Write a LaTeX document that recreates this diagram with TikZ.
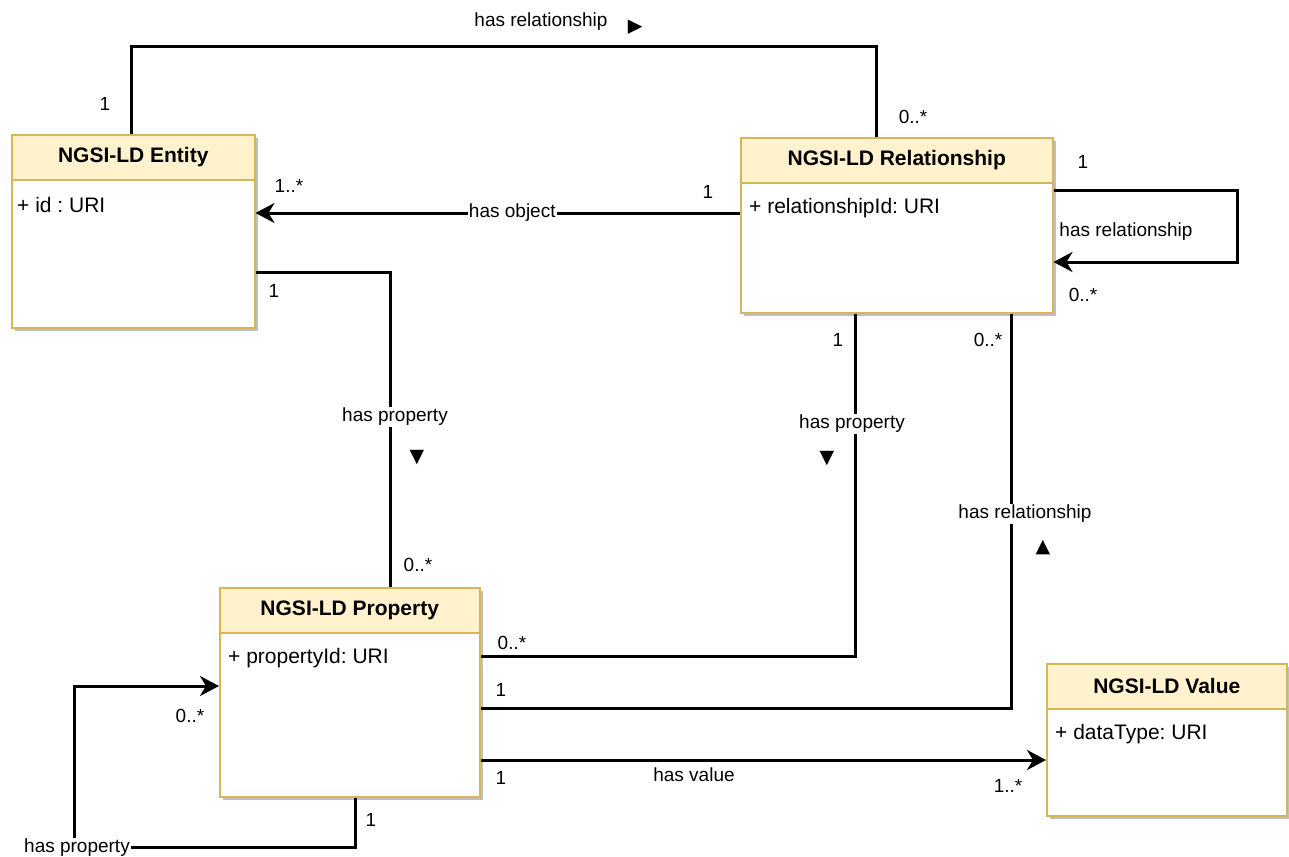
\documentclass[tikz,border=0pt]{standalone}
\usepackage{fontspec}
\setmainfont{Liberation Sans}
\newfontfamily\symfont{DejaVu Sans}
\usetikzlibrary{arrows.meta,shadows}
\definecolor{hdrfill}{HTML}{FFF2CC}
\definecolor{hdrline}{HTML}{D6B656}
\frenchspacing
\tikzset{
 conn/.style={line width=3pt},
 arr/.style={conn,-{Stealth[length=19pt,width=20pt,inset=6pt]}},
 lbl/.style={font=\fontsize{19}{22}\selectfont, inner sep=1pt},
 wlbl/.style={lbl, fill=white},
 tri/.style={font=\symfont\fontsize{19}{21}\selectfont, inner sep=0pt},
 classbox/.style={draw=hdrline, fill=white, line width=1.5pt, anchor=north west, inner sep=0pt,
   drop shadow={shadow xshift=3pt, shadow yshift=-3pt, fill=black, opacity=0.25}},
 hdr/.style={draw=hdrline, fill=hdrfill, line width=1.5pt, anchor=north west, inner sep=0pt,
   minimum height=45pt, font=\bfseries\fontsize{21}{24}\selectfont},
 attr/.style={anchor=west, font=\fontsize{21}{24}\selectfont, inner sep=0pt},
}
\begin{document}
\begin{tikzpicture}[x=1pt,y=-1pt]
\useasboundingbox[fill=white] (0,0) rectangle (1289,856);

% classes
\node[classbox, minimum width=243pt, minimum height=193pt] (ent) at (11,134) {};
\node[hdr, minimum width=243pt] (enth) at (ent.north west) {NGSI-LD Entity};
\node[attr] (enta) at ([xshift=6pt,yshift=-24pt]enth.south west) {+ id : URI};

\node[classbox, minimum width=312pt, minimum height=175pt] (rel) at (740,137) {};
\node[hdr, minimum width=312pt] (relh) at (rel.north west) {NGSI-LD Relationship};
\node[attr] (rela) at ([xshift=9pt,yshift=-25pt]relh.south west) {+ relationshipId: URI};

\node[classbox, minimum width=260pt, minimum height=209pt] (prop) at (219,587) {};
\node[hdr, minimum width=260pt] (proph) at (prop.north west) {NGSI-LD Property};
\node[attr] (propa) at ([xshift=9pt,yshift=-25pt]proph.south west) {+ propertyId: URI};

\node[classbox, minimum width=240pt, minimum height=152pt] (val) at (1046,663) {};
\node[hdr, minimum width=240pt] (valh) at (val.north west) {NGSI-LD Value};
\node[attr] (vala) at ([xshift=9pt,yshift=-25pt]valh.south west) {+ dataType: URI};

% connectors
\coordinate (topbar) at (500,47);
\draw[conn] ([xshift=120pt]ent.north west) |- (topbar) -| ([xshift=136pt]rel.north west);

\draw[arr] ([yshift=-76pt]rel.north west) -- ([yshift=-79pt]ent.north east)
  node[wlbl, pos=0.47] (hasobj) {has object};

\draw[conn] ([yshift=-138pt]ent.north east) -| ([xshift=171pt]prop.north west);

\coordinate (loopc) at (1237,226);
\draw[arr] ([yshift=-53pt]rel.north east) -| (loopc) |- ([yshift=-125pt]rel.north east);

\draw[conn] ([xshift=115pt]rel.south west) |- ([yshift=-69pt]prop.north east);
\draw[conn] ([xshift=271pt]rel.south west) |- ([yshift=-121pt]prop.north east);

\draw[arr] ([yshift=-173pt]prop.north east) -- ([yshift=-97pt]val.north west);

\coordinate (lp) at (74,847);
\draw[arr] ([xshift=136pt]prop.south west) |- (lp) |- ([yshift=-99pt]prop.north west);

% labels
\node[lbl] (l1) at (541,22) {has relationship};
\node[tri, rotate=90] (t1) at (636,27) {▼};
\node[lbl] (m1) at (105,104) {1};
\node[lbl] (m2) at (913,117) {0..*};

\node[lbl] (m3) at (289,186) {1..*};
\node[lbl] (m4) at (708,192) {1};

\node[lbl] (m5) at (274,291) {1};
\node[wlbl] (l2) at (395,417) {has property};
\node[tri] (t2) at (417,458) {▼};
\node[lbl] (m6) at (418,565) {0..*};

\node[lbl] (m7) at (1083,162) {1};
\node[lbl] (l3) at (1126,232) {has relationship};
\node[lbl] (m8) at (1083,295) {0..*};

\node[lbl] (m9) at (838,340) {1};
\node[wlbl] (l4) at (852,424) {has property};
\node[tri] (t3) at (827,459) {▼};
\node[lbl] (m10) at (512,643) {0..*};

\node[lbl] (m11) at (988,340) {0..*};
\node[wlbl] (l5) at (1025,514) {has relationship};
\node[tri] (t4) at (1043,548) {▲};
\node[lbl] (m12) at (501,690) {1};

\node[lbl] (m13) at (501,778) {1};
\node[lbl] (l6) at (694,775) {has value};
\node[lbl] (m14) at (1008,786) {1..*};

\node[lbl] (m15) at (371,820) {1};
\node[lbl] (m16) at (190,716) {0..*};
\node[wlbl] (l7) at (77,848) {has property};
\end{tikzpicture}
\end{document}
